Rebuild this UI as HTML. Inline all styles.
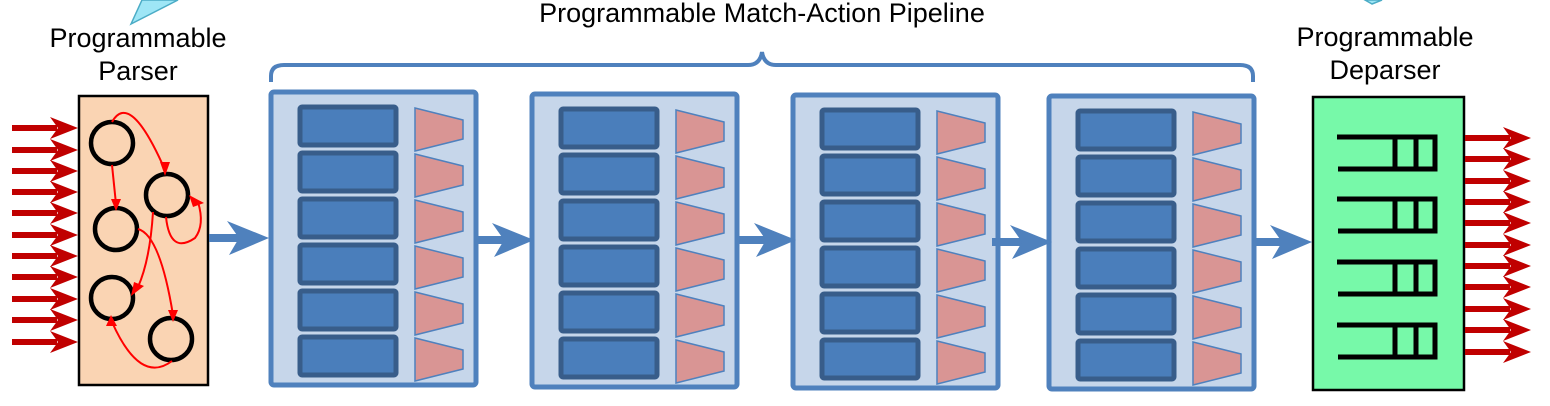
<!DOCTYPE html>
<html><head><meta charset="utf-8"><style>
html,body{margin:0;padding:0;background:#fff;}
svg{display:block;}
text{font-family:"Liberation Sans",sans-serif;font-size:27px;fill:#000;}
</style></head><body>
<svg width="1550" height="406" viewBox="0 0 1550 406" xmlns="http://www.w3.org/2000/svg">
<defs>
<g id="stage">
<rect x="0" y="0" width="205" height="293" rx="3" fill="#c6d6ea" stroke="#4f81bd" stroke-width="5"/>
<g id="row">
<rect x="29" y="15" width="96" height="38" rx="2" fill="#4a7ebb" stroke="#385d8a" stroke-width="5"/>
<polygon points="144,16 192,28 192,47 144,59" fill="#d99594" stroke="#4f81bd" stroke-width="1.5"/>
</g>
<use href="#row" y="46"/><use href="#row" y="92"/><use href="#row" y="138"/><use href="#row" y="184"/><use href="#row" y="230"/>
</g>
<g id="barrow">
<rect x="0" y="-4" width="30" height="8" fill="#4f81bd"/>
<polygon points="18,-17 60,0 20,17 30,0" fill="#4f81bd"/>
</g>
<g id="rarrow">
<rect x="0" y="-3" width="45" height="6" fill="#c00000"/>
<polygon points="38,-11 66,0 38,11 46,0" fill="#c00000"/>
</g>
<g id="queue" fill="none" stroke="#000" stroke-width="5">
<path d="M0,0 H98 V32 H1 M58,0 V32 M79,0 V32"/>
</g>
</defs>

<polygon points="131,24 142,0 178,0" fill="#9ee6f6" stroke="#4bacc6" stroke-width="1.5"/>
<polygon points="1372,4 1365,0 1382,0" fill="#9ee6f6" stroke="#4bacc6" stroke-width="1.5"/>

<text x="762" y="22" text-anchor="middle">Programmable Match-Action Pipeline</text>
<text x="138" y="47" text-anchor="middle">Programmable</text>
<text x="138" y="80" text-anchor="middle">Parser</text>
<text x="1385" y="46" text-anchor="middle">Programmable</text>
<text x="1385" y="79" text-anchor="middle">Deparser</text>

<path d="M271,82 V76 Q271,65 284,65 H748 Q760,65 762,52 Q764,65 776,65 H1240 Q1253,65 1253,76 V82" fill="none" stroke="#4f81bd" stroke-width="4"/>

<rect x="79" y="96" width="129" height="289" fill="#fad4b3" stroke="#000" stroke-width="2.5"/>
<g fill="none" stroke="#000" stroke-width="4.5">
<circle cx="112" cy="143" r="21"/><circle cx="167" cy="195" r="21"/>
<circle cx="116" cy="229" r="21"/><circle cx="112" cy="298" r="21"/><circle cx="171" cy="339" r="21"/>
</g>
<g fill="none" stroke="#f00" stroke-width="2">
<path d="M112,122 Q130,90 165,170"/>
<path d="M112,165 L116,204"/>
<path d="M166,217 Q170,255 195,238 Q205,225 198,202"/>
<path d="M153,212 Q150,260 138,287"/>
<path d="M138,229 Q160,235 173,315"/>
<path d="M172,361 Q140,385 112,322"/>
</g>
<g fill="#f00">
<polygon points="160,162 170,162 165,176"/>
<polygon points="111,199 121,199 116,211"/>
<polygon points="193,207 204,203 189,195"/>
<polygon points="134,282 144,286 131,296"/>
<polygon points="168,310 178,310 173,322"/>
<polygon points="106,326 117,326 111,315"/>
</g>
<use href="#rarrow" x="12" y="128"/><use href="#rarrow" x="12" y="150"/><use href="#rarrow" x="12" y="171"/>
<use href="#rarrow" x="12" y="192"/><use href="#rarrow" x="12" y="213"/><use href="#rarrow" x="12" y="235"/>
<use href="#rarrow" x="12" y="256"/><use href="#rarrow" x="12" y="277"/><use href="#rarrow" x="12" y="299"/>
<use href="#rarrow" x="12" y="320"/><use href="#rarrow" x="12" y="342"/>

<use href="#stage" x="271" y="92"/>
<use href="#stage" x="532" y="94"/>
<use href="#stage" x="793" y="95"/>
<use href="#stage" x="1049" y="96"/>

<use href="#barrow" x="209" y="238"/>
<use href="#barrow" x="474" y="240"/>
<use href="#barrow" x="736" y="240"/>
<use href="#barrow" x="992" y="242"/>
<use href="#barrow" x="1252" y="242"/>

<rect x="1313" y="97" width="151" height="293" fill="#77f9a9" stroke="#000" stroke-width="2.5"/>
<use href="#queue" x="1337" y="137"/>
<use href="#queue" x="1337" y="199"/>
<use href="#queue" x="1337" y="262"/>
<use href="#queue" x="1337" y="325"/>
<use href="#rarrow" x="1465" y="138"/><use href="#rarrow" x="1465" y="159"/><use href="#rarrow" x="1465" y="181"/>
<use href="#rarrow" x="1465" y="202"/><use href="#rarrow" x="1465" y="223"/><use href="#rarrow" x="1465" y="245"/>
<use href="#rarrow" x="1465" y="266"/><use href="#rarrow" x="1465" y="287"/><use href="#rarrow" x="1465" y="309"/>
<use href="#rarrow" x="1465" y="330"/><use href="#rarrow" x="1465" y="352"/>
</svg>
</body></html>
